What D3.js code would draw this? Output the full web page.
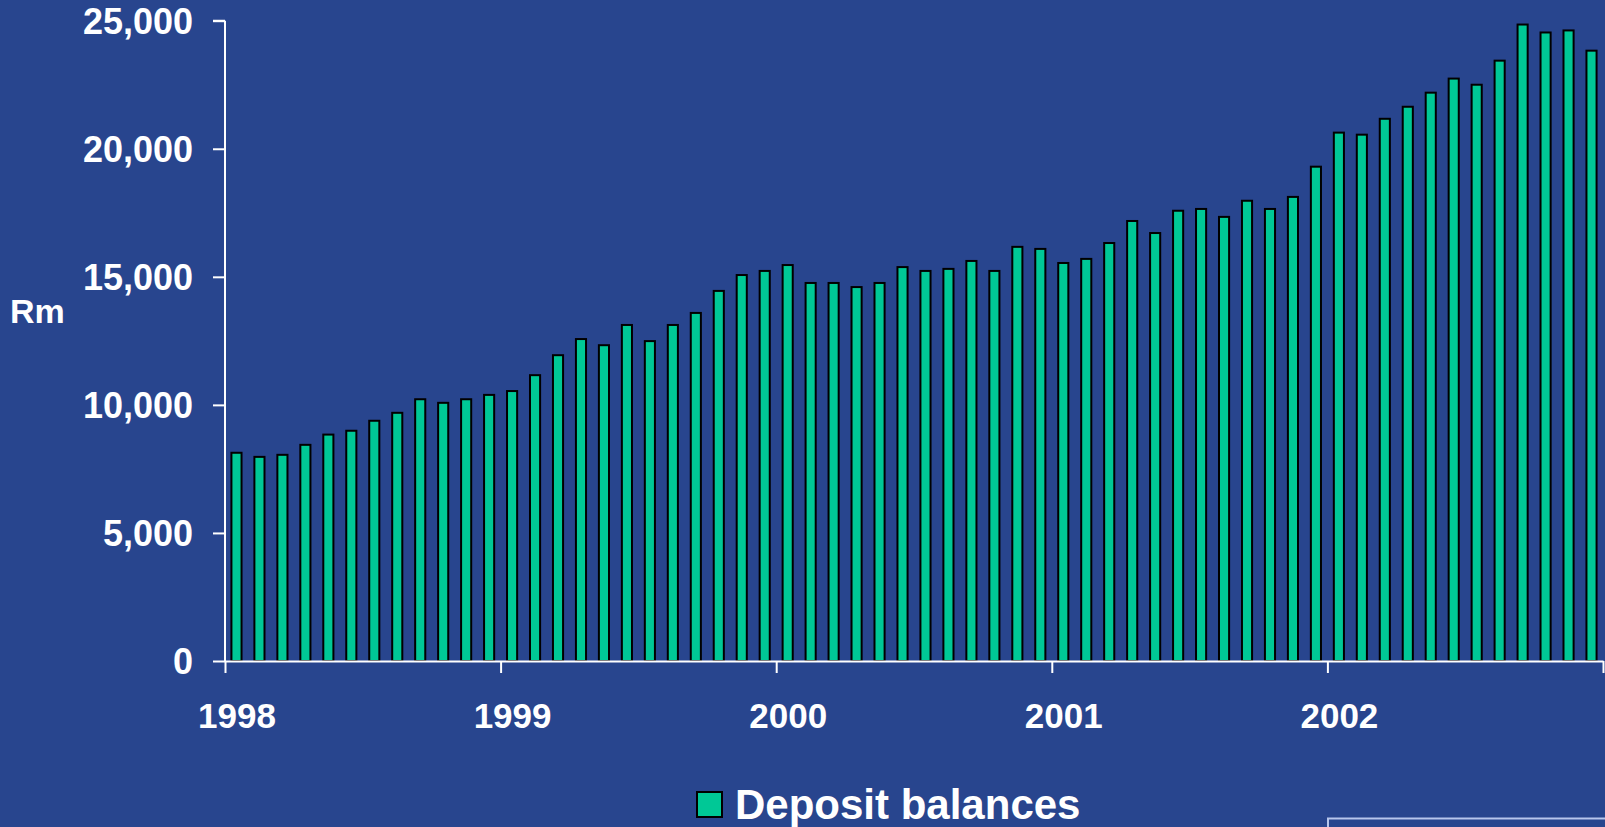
<!DOCTYPE html>
<html>
<head>
<meta charset="utf-8">
<script src="https://cdn.jsdelivr.net/npm/d3@7"></script>
<style>
  html, body { margin: 0; padding: 0; background: #28458e; }
  svg { display: block; }
  text { font-family: Arial, "Liberation Sans", sans-serif; font-weight: bold; fill: #fff; }
</style>
</head>
<body>
<svg width="1605" height="827"></svg>
<script>
// monthly deposit balances, Rm, Jan 1998 - Dec 2002
const years = ["1998", "1999", "2000", "2001", "2002"];
const deposits1998 = [8130, 7970, 8050, 8440, 8840, 8990, 9380, 9690, 10220, 10080, 10220, 10390];
const deposits1999 = [10540, 11160, 11940, 12570, 12330, 13120, 12490, 13120, 13590, 14450, 15070, 15230];
const deposits2000 = [15460, 14760, 14760, 14600, 14760, 15380, 15230, 15310, 15620, 15230, 16170, 16090];
const deposits2001 = [15540, 15700, 16320, 17180, 16710, 17580, 17650, 17340, 17970, 17650, 18120, 19300];
const deposits2002 = [20630, 20550, 21170, 21640, 22190, 22740, 22500, 23440, 24850, 24540, 24620, 23830];
const yTicks = [0, 5000, 10000, 15000, 20000, 25000];
const seriesName = "Deposit balances";
const unitLabel = "Rm";

const values = [].concat(deposits1998, deposits1999, deposits2000, deposits2001, deposits2002);
const months = values.map((v, i) => ({ idx: i, value: v }));

const svg = d3.select("svg");
const plotLeft = 225, plotRight = 1603, plotTop = 20.7, plotBottom = 661;

const x = d3.scaleBand()
  .domain(months.map(d => d.idx))
  .range([plotLeft, plotRight])
  .paddingInner(0.56)
  .paddingOuter(0.28);

// month position scale for the axis (ticks sit on year boundaries)
const xm = d3.scaleLinear().domain([0, values.length]).range([plotLeft, plotRight]);

const y = d3.scaleLinear().domain([0, 25000]).range([plotBottom, plotTop]);

// bars
svg.append("g")
  .selectAll("rect")
  .data(months)
  .join("rect")
  .attr("x", d => x(d.idx))
  .attr("y", d => y(d.value))
  .attr("width", x.bandwidth())
  .attr("height", d => y(0) - y(d.value))
  .attr("fill", "#00c896")
  .attr("stroke", "#000")
  .attr("stroke-width", 2);

// y axis
const yAxis = svg.append("g")
  .attr("transform", `translate(${plotLeft},0)`)
  .call(d3.axisLeft(y).tickValues(yTicks).tickSize(12).tickPadding(20).tickFormat(d3.format(",")));
yAxis.selectAll("path, line").attr("stroke", "#fff").attr("stroke-width", 2);
yAxis.select(".domain").attr("d", `M0,${y(25000)}H-12M0,${y(25000)}V${y(0)}`);
yAxis.selectAll("text").attr("font-size", 36).attr("fill", "#fff").attr("dy", "0.36em");

// x axis
const yearTicks = d3.range(0, values.length + 1, 12);
const xAxis = svg.append("g")
  .attr("transform", `translate(0,${plotBottom})`)
  .call(d3.axisBottom(xm).tickValues(yearTicks).tickSize(12).tickSizeOuter(0)
    .tickFormat(d => years[d / 12] || ""));
xAxis.selectAll("path, line").attr("stroke", "#fff").attr("stroke-width", 2);
xAxis.selectAll("text")
  .attr("font-size", 35)
  .attr("fill", "#fff")
  .attr("dy", null)
  .attr("y", 67)
  .attr("x", (xm(1) - xm(0)) / 2);

// unit label
svg.append("text")
  .attr("x", 10)
  .attr("y", 323)
  .attr("font-size", 34)
  .text(unitLabel);

// legend
svg.append("rect")
  .attr("x", 697).attr("y", 792)
  .attr("width", 25).attr("height", 25)
  .attr("fill", "#00c896")
  .attr("stroke", "#000")
  .attr("stroke-width", 2);
svg.append("text")
  .attr("x", 735)
  .attr("y", 819)
  .attr("font-size", 42)
  .text(seriesName);

// partly visible box in the lower right corner
svg.append("rect")
  .attr("x", 1328).attr("y", 818.5)
  .attr("width", 300).attr("height", 40)
  .attr("fill", "none")
  .attr("stroke", "#b7c6ec")
  .attr("stroke-width", 2);
</script>
</body>
</html>
